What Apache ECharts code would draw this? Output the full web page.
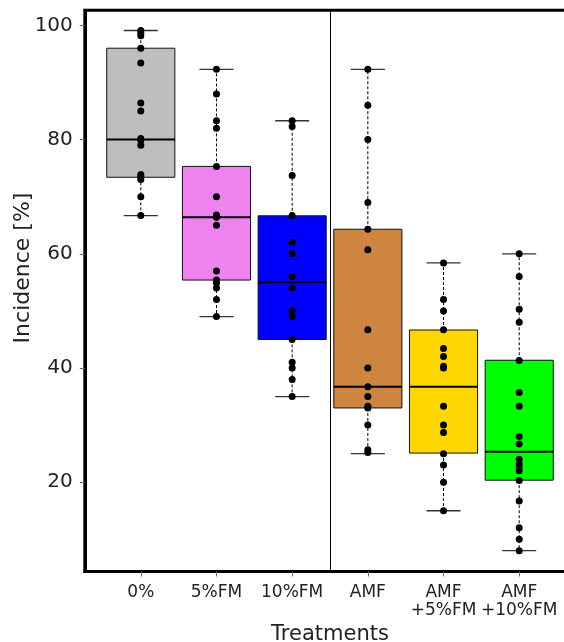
<!DOCTYPE html>
<html>
<head>
<meta charset="utf-8">
<script src="https://cdn.jsdelivr.net/npm/echarts@6/dist/echarts.min.js"></script>
<style>
html,body{margin:0;padding:0;background:#fff;}
#chart{width:564px;height:642px;}
</style>
</head>
<body>
<div id="chart"></div>
<script>
// ---- data ----
const categories = ['0%', '5%FM', '10%FM', 'AMF', 'AMF\n+5%FM', 'AMF\n+10%FM'];
const boxMin = [66.7, 49, 35, 25, 15, 8];
const boxQ1 = [73.4, 55.4, 45, 33, 25.1, 20.35];
const boxMedian = [80, 66.4, 55, 36.7, 36.7, 25.35];
const boxQ3 = [96, 75.3, 66.65, 64.3, 46.65, 41.35];
const boxMax = [99.1, 92.3, 83.3, 92.3, 58.4, 60];
const points0 = [99.1, 98.6, 98.2, 96, 93.4, 86.4, 85, 80.2, 79.9, 79, 73.9, 73.5, 73, 70, 66.7];
const points1 = [92.3, 88, 83.3, 82, 75.3, 70, 66.8, 66.4, 65, 57, 55.4, 54.9, 54, 52, 49];
const points2 = [83.3, 82.3, 73.7, 66.7, 62, 60, 56, 54, 50, 49, 45, 41, 40, 38, 35];
const points3 = [92.3, 86, 80, 69, 64.3, 60.7, 46.7, 40, 36.7, 35, 33.3, 33, 30, 25.7, 25.2];
const points4 = [58.4, 52, 50, 46.7, 43.4, 42, 40.3, 40, 33.3, 30, 28.7, 25, 23, 20, 15];
const points5 = [60, 56, 50.3, 48, 41.3, 35.7, 33.3, 28, 26.7, 24, 23.2, 22.5, 22, 20.3, 16.7, 12, 10, 8];
const yTicks = [20, 40, 60, 80, 100];
const separatorAt = 3.5;

// ---- styles ----
const boxColors = ['#BEBEBE', '#EE82EE', '#0000FF', '#CD853F', '#FFD700', '#00FF00'];
const FONT = '"DejaVu Sans", Verdana, sans-serif';

const allPoints = [points0, points1, points2, points3, points4, points5];
const boxData = categories.map((c, i) => [i + 1, boxMin[i], boxQ1[i], boxMedian[i], boxQ3[i], boxMax[i]]);
const scatterData = [];
allPoints.forEach((arr, i) => arr.forEach(v => scatterData.push([i + 1, v])));
const catPositions = categories.map((c, i) => i + 1);

const chart = echarts.init(document.getElementById('chart'), null, {renderer: 'canvas'});

function renderBox(params, api) {
  const x = api.value(0);
  const pMin = api.coord([x, api.value(1)]);
  const pQ1 = api.coord([x, api.value(2)]);
  const pMed = api.coord([x, api.value(3)]);
  const pQ3 = api.coord([x, api.value(4)]);
  const pMax = api.coord([x, api.value(5)]);
  const boxW = api.size([0.9, 0])[0];
  const capW = api.size([0.45, 0])[0];
  const cx = pMed[0];
  const color = boxColors[params.dataIndex];
  return {
    type: 'group',
    children: [
      {type: 'line', shape: {x1: cx, y1: pQ3[1], x2: cx, y2: pMax[1]},
       style: {stroke: '#000', lineWidth: 1, lineDash: [3, 2]}},
      {type: 'line', shape: {x1: cx, y1: pQ1[1], x2: cx, y2: pMin[1]},
       style: {stroke: '#000', lineWidth: 1, lineDash: [3, 2]}},
      {type: 'line', shape: {x1: cx - capW / 2, y1: pMax[1], x2: cx + capW / 2, y2: pMax[1]},
       style: {stroke: '#333', lineWidth: 1.3}},
      {type: 'line', shape: {x1: cx - capW / 2, y1: pMin[1], x2: cx + capW / 2, y2: pMin[1]},
       style: {stroke: '#333', lineWidth: 1.3}},
      {type: 'rect', shape: {x: cx - boxW / 2, y: pQ3[1], width: boxW, height: pQ1[1] - pQ3[1]},
       style: {fill: color, stroke: '#111', lineWidth: 1}},
      {type: 'line', shape: {x1: cx - boxW / 2, y1: pMed[1], x2: cx + boxW / 2, y2: pMed[1]},
       style: {stroke: '#000', lineWidth: 2}}
    ]
  };
}

const option = {
  animation: false,
  backgroundColor: '#fff',
  grid: {left: 84.8, width: 490.4, top: 10.3, height: 561.2, containLabel: false, outerBoundsMode: 'none',
         show: true, borderColor: '#000', borderWidth: 3, backgroundColor: 'transparent'},
  xAxis: {
    type: 'value', min: 0.26, max: 6.74,
    axisLine: {show: true, onZero: false, lineStyle: {color: '#000', width: 3}},
    axisTick: {show: true, customValues: catPositions, length: 5, lineStyle: {color: '#666', width: 1}},
    axisLabel: {show: true, customValues: catPositions, formatter: v => categories[Math.round(v) - 1],
                fontFamily: FONT, fontSize: 17, color: '#222', margin: 12, lineHeight: 18,
                hideOverlap: false, showMinLabel: true, showMaxLabel: true},
    splitLine: {show: false}
  },
  yAxis: {
    type: 'value', min: 4.36, max: 102.64,
    axisLine: {show: true, onZero: false, lineStyle: {color: '#000', width: 3}},
    axisTick: {show: true, customValues: yTicks, length: 5, lineStyle: {color: '#666', width: 1}},
    axisLabel: {show: true, customValues: yTicks, fontFamily: FONT, fontSize: 20, color: '#222', margin: 12},
    splitLine: {show: false}
  },
  graphic: [
    {type: 'text', x: 330, y: 635, style: {text: 'Treatments', font: '21px ' + FONT, fill: '#222',
      textAlign: 'center', textVerticalAlign: 'middle'}},
    {type: 'text', x: 23, y: 268, rotation: Math.PI / 2, style: {text: 'Incidence [%]', font: '22px ' + FONT, fill: '#222',
      textAlign: 'center', textVerticalAlign: 'middle'}}
  ],
  series: [
    {
      type: 'custom', renderItem: renderBox, data: boxData, z: 2,
      encode: {x: 0, y: [1, 2, 3, 4, 5]},
      markLine: {silent: true, symbol: ['none', 'none'], label: {show: false},
        lineStyle: {color: '#000', width: 1, type: 'solid'},
        data: [{xAxis: separatorAt}]}
    },
    {
      type: 'scatter', data: scatterData, symbol: 'circle', symbolSize: 7, z: 5,
      itemStyle: {color: '#000', opacity: 1}, silent: true
    }
  ]
};
chart.setOption(option);
</script>
</body>
</html>
